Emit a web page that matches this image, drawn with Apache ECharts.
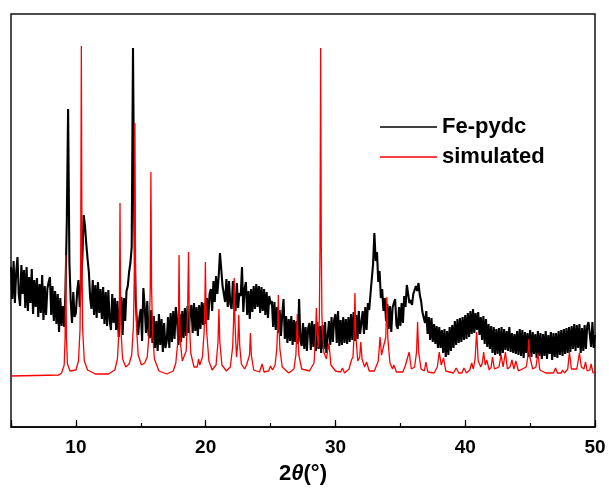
<!DOCTYPE html>
<html><head><meta charset="utf-8">
<script src="https://cdn.jsdelivr.net/npm/echarts@6/dist/echarts.min.js"></script>
<style>html,body{margin:0;padding:0;background:#fff}#c{width:609px;height:490px}</style>
</head><body><div id="c"></div>
<script>
// Fe-pydc measured pattern: intensity sampled every 0.1 degree from 5.0 to 50.0 (arbitrary units)
const feStart = 5;
const feStep = 0.1;
const feIntensity = [
160,128,166,124,155,170,132,121,162,133,
157,119,160,116,150,124,158,113,147,120,
149,110,143,114,152,107,141,112,138,145,
150,112,141,106,136,103,133,95,129,101,
121,100,138,205,318,165,126,104,135,110,
114,136,147,120,144,170,212,201,183,168,
155,129,118,147,112,142,109,145,114,138,
108,140,103,135,101,137,107,97,133,104,
129,97,126,90,120,130,92,129,106,136,
141,155,164,180,379,205,128,106,92,110,
118,86,139,121,94,126,92,89,117,84,
111,79,106,76,113,82,108,75,104,79,
86,110,79,114,85,116,88,120,107,82,
113,85,116,89,119,91,121,94,115,122,
94,124,96,120,91,122,98,125,102,124,
103,129,107,133,138,116,146,125,151,133,
150,174,158,141,143,125,148,120,146,123,
118,146,120,116,144,119,134,131,160,115,
138,145,112,136,108,138,115,141,118,143,
120,141,114,140,116,138,112,135,109,131,
123,126,100,125,97,120,94,117,91,113,
128,88,111,84,108,86,111,82,107,85,
106,83,128,86,81,104,78,100,76,99,
104,77,106,80,103,76,105,78,101,74,
102,78,105,74,72,106,82,110,85,107,
113,84,116,81,107,82,110,84,108,83,
110,85,113,87,115,86,112,88,116,93,
92,116,93,120,97,124,117,133,132,163,
194,166,175,145,156,129,138,116,129,106,
123,98,121,95,119,124,128,102,98,120,
101,124,104,131,120,142,140,124,127,122,
133,131,141,136,144,132,126,115,114,104,
116,93,110,87,109,85,103,83,101,79,
100,79,97,74,98,70,96,72,100,76,
102,79,106,82,108,84,109,85,110,87,
112,88,114,90,116,93,118,94,114,97,
115,92,110,87,111,83,108,80,103,78,
101,74,100,72,98,73,99,71,100,74,
98,77,96,76,100,75,94,74,93,73,
96,72,98,71,97,69,95,74,94,70,
97,70,95,73,93,69,96,71,94,68,
93,71,96,68,92,73,95,67,94,70,
94,69,96,72,97,71,98,73,99,74,
100,75,101,78,103,76,102,79,103,74,
99,76,102,78,101,105,104,80,105,79,
92
];

// Simulated pattern: [2theta, intensity] points
const simulated = [
[5,51],[8.7,52],[8.9,54],[9.1,62],[9.17,90],[9.22,172],[9.27,90],[9.35,63],[9.55,56],
[10.0,57],[10.2,66],[10.32,98],[10.37,170],[10.42,381],[10.47,170],[10.52,98],[10.65,66],[10.9,57],[11.5,53],[12.5,53],
[13.0,57],[13.2,68],[13.32,95],[13.36,130],[13.40,224],[13.44,130],[13.48,95],[13.6,68],[13.85,60],[14.1,63],
[14.3,72],[14.43,100],[14.5,150],[14.55,304],[14.6,150],[14.67,100],[14.8,72],[15.05,62],[15.3,64],
[15.5,70],[15.65,95],[15.73,140],[15.78,255],[15.83,140],[15.91,95],[16.05,68],[16.4,56],[17.0,53],[17.5,56],
[17.7,64],[17.85,85],[17.91,115],[17.95,172],[17.99,115],[18.05,85],[18.2,66],[18.35,66],[18.5,76],
[18.6,110],[18.68,175],[18.74,108],[18.85,74],[19.1,60],[19.35,60],
[19.45,68],[19.55,62],[19.75,70],
[19.88,95],[19.94,125],[19.98,165],[20.02,125],[20.08,95],[20.25,66],[20.5,57],[20.8,62],
[20.95,85],[21.02,118],[21.09,85],[21.25,62],[21.6,56],[21.9,60],
[22.08,80],[22.15,105],[22.2,149],[22.25,108],[22.32,85],[22.38,70],
[22.48,85],[22.55,112],[22.62,82],[22.75,63],[23.0,58],
[23.15,62],[23.2,64],[23.27,62],
[23.38,72],[23.45,94],[23.52,72],[23.7,57],[24.15,55],
[24.35,63],[24.5,55],[24.85,56],
[25.0,61],[25.15,57],[25.35,62],
[25.48,78],[25.55,100],[25.6,132],[25.65,100],[25.72,78],[25.9,60],[26.4,54],[26.8,58],
[26.95,72],[27.01,90],[27.06,113],[27.11,90],[27.18,72],[27.4,58],[28.0,56],[28.35,64],
[28.46,88],[28.53,119],[28.6,92],[28.68,80],[28.76,110],[28.81,180],[28.86,379],[28.91,180],[28.96,110],[29.1,75],[29.3,68],
[29.5,84],[29.65,62],[30.0,56],[30.4,55],
[30.54,59],[30.7,54],[31.05,58],
[31.23,67],[31.35,70],
[31.43,90],[31.5,134],[31.57,92],[31.72,66],[31.87,70],
[31.95,85],[32.05,68],[32.25,60],
[32.4,65],[32.6,56],[33.0,56],[33.3,66],
[33.44,90],[33.55,72],[33.7,72],
[33.88,90],[33.96,130],[34.04,88],[34.2,64],[34.4,58],
[34.5,62],[34.7,55],[35.2,55],
[35.4,62],[35.52,60],
[35.68,75],[35.85,58],[36.1,60],
[36.25,75],[36.33,105],[36.41,75],[36.6,58],[36.85,56],
[36.97,65],[37.12,55],[37.6,54],[37.85,60],
[38.0,75],[38.15,62],
[38.33,69],[38.5,56],[39.1,54],
[39.3,59],[39.5,54],[39.75,54],
[39.9,59],[40.1,54],[40.35,57],
[40.5,64],[40.62,58],[40.76,68],
[40.88,95],[41.0,66],[41.2,60],[41.32,64],
[41.42,75],[41.54,62],
[41.66,67],[41.85,57],[42.0,60],
[42.1,70],[42.25,58],[42.6,60],
[42.76,72],[42.92,60],
[43.1,75],[43.25,58],[43.45,60],
[43.6,67],[43.75,58],
[43.9,66],[44.1,56],[44.7,60],
[44.82,70],[44.9,88],[44.98,70],[45.2,58],[45.45,60],
[45.6,74],[45.75,57],[46.2,54],[46.8,54],
[46.96,59],[47.1,54],[47.4,54],
[47.5,57],[47.65,54],[47.9,58],
[48.03,75],[48.18,58],[48.6,58],
[48.8,74],[48.95,60],[49.15,58],
[49.27,65],[49.4,56],[49.6,57],
[49.7,63],[49.85,54],[50,55]
];

const seriesNames = ['Fe-pydc', 'simulated'];
const xTickLabels = [10, 20, 30, 40, 50];
const xMin = 5, xMax = 50;
const yMin = 0, yMax = 413;

const feData = feIntensity.map((v, i) => [+(feStart + i * feStep).toFixed(2), v]);

const FONT = 'Liberation Sans, Arial, sans-serif';
const chart = echarts.init(document.getElementById('c'), null, {renderer: 'canvas'});
chart.setOption({
  animation: false,
  backgroundColor: '#fff',
  grid: [
    {left: 11, right: 14, top: 14, bottom: 63, show: true, borderColor: '#111', borderWidth: 1.5, backgroundColor: 'transparent'},
    {left: 11, right: 14, top: 14, bottom: 63}
  ],
  legend: {
    orient: 'vertical', left: 375, top: 110, itemWidth: 57, itemHeight: 1.5, itemGap: 6,
    icon: 'rect',
    data: seriesNames,
    textStyle: {fontSize: 22, fontWeight: 'bold', fontFamily: FONT, color: '#000', lineHeight: 24}
  },
  xAxis: [
    {gridIndex: 0, type: 'value', min: xMin, max: xMax, interval: 5,
      axisLine: {show: true, lineStyle: {color: '#000', width: 1.5}},
      axisTick: {show: true, inside: true, length: 4, lineStyle: {color: '#000', width: 1.2}},
      axisLabel: {show: false}, splitLine: {show: false}},
    {gridIndex: 1, type: 'value', min: xMin, max: xMax, splitNumber: 5,
      axisLine: {show: false},
      axisTick: {show: true, inside: true, length: 7, lineStyle: {color: '#000', width: 1.2}},
      axisLabel: {formatter: v => xTickLabels.includes(v) ? String(v) : '', fontSize: 19, fontWeight: 'bold',
        fontFamily: FONT, color: '#000', margin: 11},
      splitLine: {show: false},
      name: '{a|2}{b|θ}{a|(°)}', nameLocation: 'middle', nameGap: 36,
      nameTextStyle: {rich: {
        a: {fontSize: 22, fontWeight: 'bold', fontFamily: FONT, color: '#000'},
        b: {fontSize: 22, fontWeight: 'bold', fontStyle: 'italic', fontFamily: FONT, color: '#000'}
      }}}
  ],
  yAxis: [
    {gridIndex: 0, type: 'value', min: yMin, max: yMax, show: false, splitLine: {show: false}},
    {gridIndex: 1, type: 'value', min: yMin, max: yMax, show: false, splitLine: {show: false}}
  ],
  series: [
    {name: seriesNames[0], type: 'line', xAxisIndex: 0, yAxisIndex: 0, data: feData, symbol: 'none', showSymbol: false,
      lineStyle: {color: '#000', width: 2.1}, itemStyle: {color: '#000'}, silent: true, z: 2},
    {name: seriesNames[1], type: 'line', xAxisIndex: 0, yAxisIndex: 0, data: simulated, symbol: 'none', showSymbol: false,
      lineStyle: {color: '#ff0000', width: 1.3}, itemStyle: {color: '#ff0000'}, silent: true, z: 3}
  ]
});
</script></body></html>
